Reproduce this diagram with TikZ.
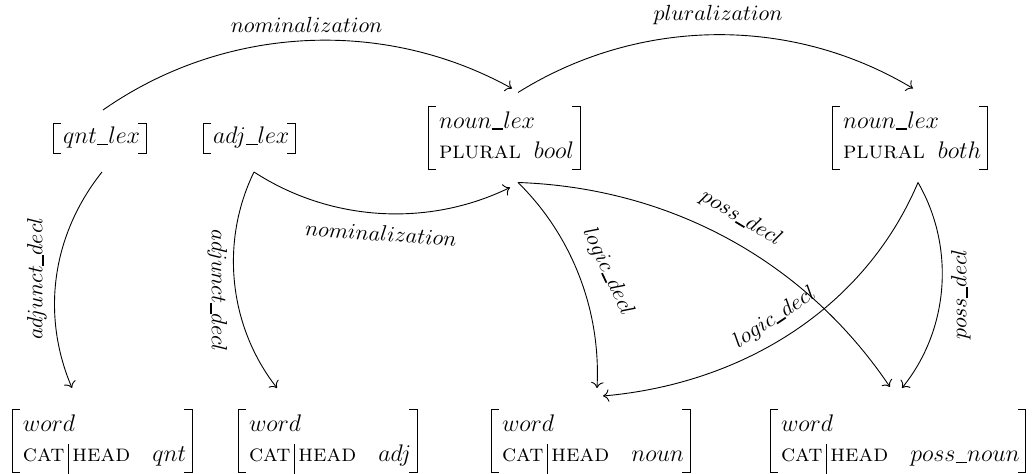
\documentclass[tikz,border=0pt]{standalone}
\usetikzlibrary{arrows.meta}
% short, heavy underscore used inside type names
\newcommand{\us}{\mbox{\rule[-0.06em]{0.48em}{0.08em}}}
% path separator between feature names
\newcommand{\fpath}{\kern1.8pt\raisebox{-6pt}[0pt][0pt]{\rule{0.4pt}{15pt}}\kern1.8pt}
% two-row feature structure body: type on top, one feature below
\newcommand{\avmbody}[4]{\kern2.5pt\begin{tabular}{@{}l@{\hspace{#4}}l@{}}\multicolumn{2}{@{}l@{}}{$#1$}\\ #2 & $#3$\end{tabular}}
\renewcommand{\arraystretch}{1.0714}
\begin{document}
\begin{tikzpicture}[x=0.5pt,y=0.5pt,
  fs/.style={font=\large, inner xsep=3pt, inner ysep=0pt, outer sep=0pt, anchor=west},
  fsone/.style={fs, minimum height=15pt},
  fstwo/.style={fs, minimum height=31.5pt},
  bracket/.style={line width=0.45pt},
  rel/.style={-{To[scale=1.15]}, line width=0.45pt},
  lbl/.style={font=\fontsize{10.95}{13.6}\selectfont, inner sep=0pt}]
\path[use as bounding box] (0,0) rectangle (1034,-474);

% lexical types
\node[fsone] (ql) at (53,-138) {\kern2pt$qnt\us lex$\ };
\node[fsone] (al) at (203,-138) {\kern2pt$adj\us lex$\ };
\node[fstwo] (nb) at (428,-137.5) {\avmbody{noun\us lex}{\textsc{plural}}{bool}{6.5pt}};
\node[fstwo] (nh) at (832,-137.5) {\avmbody{noun\us lex}{\textsc{plural}}{both}{6.5pt}};

% words
\node[fstwo] (wq) at (12,-441) {\avmbody{word}{\textsc{cat}\fpath\textsc{head}}{qnt}{11pt}};
\node[fstwo] (wa) at (238,-441) {\avmbody{word}{\textsc{cat}\fpath\textsc{head}}{adj}{11pt}};
\node[fstwo, anchor=east] (wn) at (690,-441) {\avmbody{word}{\textsc{cat}\fpath\textsc{head}}{noun}{11pt}};
\node[fstwo] (wp) at (770,-441) {\avmbody{word}{\textsc{cat}\fpath\textsc{head}}{poss\us noun}{11pt}};

% square brackets round every feature structure
\foreach \n in {ql,al,nb,nh,wq,wa,wn,wp}
  \draw[bracket] ([xshift=4pt]\n.north west) -| (\n.south west) -- ++(4pt,0)
                 ([xshift=-4pt]\n.north east) -| (\n.south east) -- ++(-4pt,0);

% lexical rules
\draw[rel] ([xshift=25pt,yshift=14pt]ql.west) to[out=35,in=151,looseness=0.92]
  node[lbl,pos=0.5,xshift=1.1pt,yshift=7.75pt] {$nominalization$}
  ([xshift=42pt,yshift=24.5pt]nb.west);
\draw[rel] ([xshift=45pt,yshift=22.5pt]nb.west) to[out=32,in=149,looseness=0.92]
  node[lbl,pos=0.5,xshift=1.5pt,yshift=10pt] {$pluralization$}
  ([xshift=40.5pt,yshift=24.5pt]nh.west);
\draw[rel] ([xshift=24.5pt,yshift=-17pt]ql.west) to[out=231.5,in=113,looseness=0.94]
  node[lbl,pos=0.5,xshift=-9.85pt,yshift=-1.4pt,rotate=90] {$adjunct\us decl$}
  ([xshift=30pt,yshift=26.5pt]wq.west);
\draw[rel] ([xshift=25.5pt,yshift=-17pt]al.west) to[out=244,in=128,looseness=0.92]
  node[lbl,pos=0.5,xshift=-8.7pt,yshift=-3.75pt,rotate=-90] {$adjunct\us decl$}
  ([xshift=19.5pt,yshift=26.5pt]wa.west);
\draw[rel] ([xshift=25.5pt,yshift=-17pt]al.west) to[out=-33,in=206,looseness=0.91]
  node[lbl,pos=0.5,xshift=0.55pt,yshift=-10pt,rotate=-4] {$nominalization$}
  ([xshift=41pt,yshift=-25pt]nb.west);
\draw[rel] ([xshift=45pt,yshift=-22.5pt]nb.west) to[out=-44.5,in=87,looseness=0.89]
  node[lbl,pos=0.5,xshift=14.2pt,yshift=2.4pt,rotate=-65] {$logic\us decl$}
  ([xshift=-46.5pt,yshift=26.5pt]wn.east);
\draw[rel] ([xshift=45pt,yshift=-22.5pt]nb.west) to[out=-2,in=124,looseness=0.92]
  node[lbl,pos=0.5,xshift=6pt,yshift=10.5pt,rotate=-31] {$poss\us decl$}
  ([xshift=60pt,yshift=27pt]wp.west);
\draw[rel] ([xshift=43pt,yshift=-22.5pt]nh.west) to[out=247,in=5,looseness=0.93]
  node[lbl,pos=0.5,xshift=-8.55pt,yshift=7.35pt,rotate=33.5] {$logic\us decl$}
  ([xshift=-43.5pt,yshift=22.5pt]wn.east);
\draw[rel] ([xshift=43pt,yshift=-22.5pt]nh.west) to[out=-60,in=51,looseness=0.93]
  node[lbl,pos=0.5,xshift=9.55pt,yshift=-3.45pt,rotate=90] {$poss\us decl$}
  ([xshift=66pt,yshift=26.5pt]wp.west);
\end{tikzpicture}
\end{document}
